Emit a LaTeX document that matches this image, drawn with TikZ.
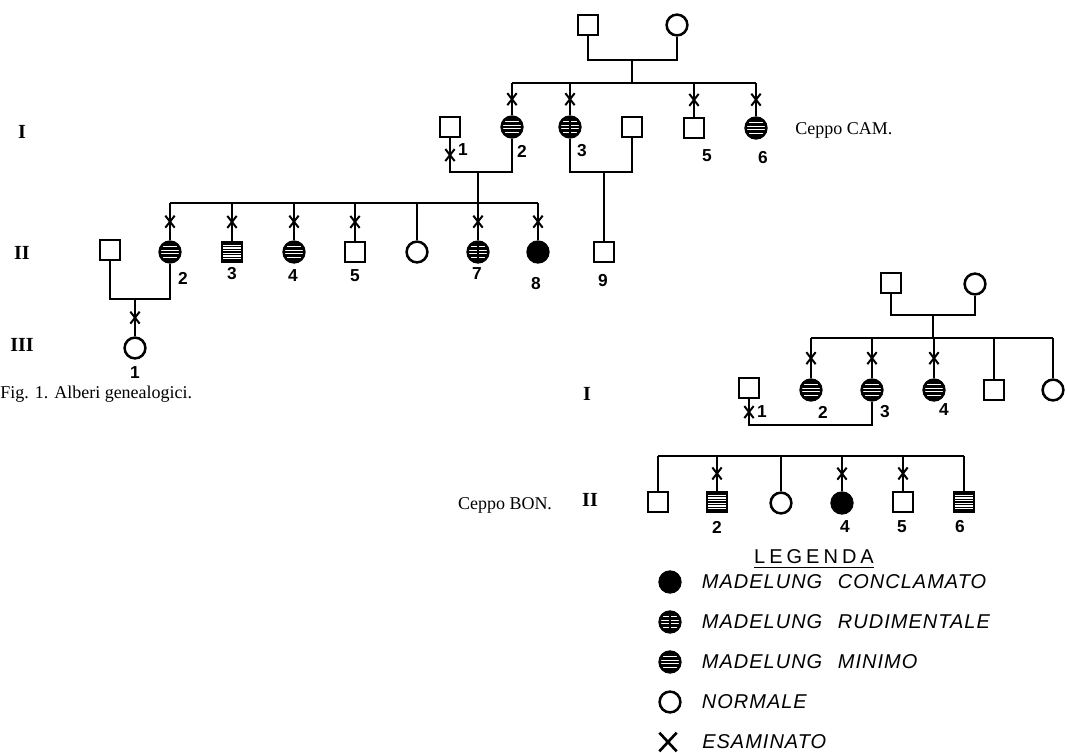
\documentclass[tikz,border=0pt]{standalone}
\usepackage{fontspec}
\setmainfont{Liberation Serif}
\setsansfont{Liberation Sans}
\newfontfamily\legfont[LetterSpace=5.0,WordSpace=2.4]{Liberation Sans}
\newfontfamily\titfont[LetterSpace=20.0]{Liberation Sans}
\usetikzlibrary{calc}
\usetikzlibrary{shapes.misc}
\usetikzlibrary{positioning}

% white stripes inside a hatched symbol
\newcommand{\strisce}[1]{%
  \foreach \k in {#1}
    \draw[white, line width=0.8pt] ([yshift=\k pt]path picture bounding box.west) -- ([yshift=\k pt]path picture bounding box.east);}

\tikzset{
  persona/.style={draw, line width=1.9pt, inner sep=0pt, fill=white},
  maschio/.style={persona, rectangle, minimum size=14.8pt},
  femmina/.style={persona, circle, minimum size=15.6pt},
  minimo/.style={femmina, fill=black, path picture={\strisce{-4.2,-1.4,1.4,4.2}}},
  rudimentale/.style={femmina, fill=black, path picture={\strisce{-4.2,-1.4,1.4,4.2}
      \draw[line width=1.5pt] (path picture bounding box.north) -- (path picture bounding box.south);}},
  quadrighe/.style={maschio, fill=black, path picture={\strisce{-5,-3,-1,1,3,5}}},
  conclamato/.style={femmina, fill=black},
  esam/.style={cross out, draw, line width=1.5pt, inner sep=0pt, minimum width=5.5pt, minimum height=7.5pt},
  linea/.style={line width=1.3pt},
  num/.style={font=\sffamily\bfseries\fontsize{13}{13}\selectfont, inner sep=0pt},
  gen/.style={font=\bfseries\fontsize{15}{15}\selectfont, inner sep=0pt},
  ceppo/.style={font=\fontsize{13.5}{13.5}\selectfont, inner sep=0pt},
  voce/.style={font=\legfont\itshape\fontsize{15}{15}\selectfont, inner sep=0pt},
}

\begin{document}
\begin{tikzpicture}[x=0.75pt, y=-0.75pt]
  \useasboundingbox (0,0) rectangle (1065,753);

  % Ceppo CAM, generazione I
  \node[maschio] (camP) at (588,25) {};
  \node[femmina] (camM) at (677,25) {};
  \coordinate (camPM) at (632,60);
  \coordinate (camsibL) at (512,83);
  \coordinate (camsibR) at (756,83);
  \draw[linea] (camP) |- (camM |- camPM) -- (camM);
  \draw[linea] (camPM) -- (camPM |- camsibL);
  \draw[linea] (camsibL) -- (camsibR);

  \node[maschio] (cam1) at (450,127) {};
  \node[minimo] (cam2) at (512,127) {};
  \node[rudimentale] (cam3) at (570,127) {};
  \node[maschio] (cam3m) at (632,127) {};
  \node[maschio] (cam5) at (694,128) {};
  \node[minimo] (cam6) at (756,128) {};
  \foreach \n in {cam2,cam3,cam5,cam6}
    \draw[linea] (\n |- camsibL) -- node[esam]{} (\n);

  \node[num] (cam1n) at (463,150) {1};
  \node[num] (cam2n) at (522,151) {2};
  \node[num] (cam3n) at (582,151) {3};
  \node[num] (cam5n) at (707,156) {5};
  \node[num] (cam6n) at (763,158) {6};

  \coordinate (camM12) at (478,172);
  \draw[linea] (cam1) -- node[esam]{} (cam1 |- camM12) -- (cam2 |- camM12) -- (cam2);
  \coordinate (camM3) at (604,172);
  \draw[linea] (cam3) |- (camM3) -| (cam3m);

  % Ceppo CAM, generazione II
  \coordinate (camIIsibL) at (170,203);
  \coordinate (camIIsibR) at (538,203);
  \draw[linea] (camM12) -- (camM12 |- camIIsibL);
  \draw[linea] (camIIsibL) -- (camIIsibR);

  \node[maschio] (camII1) at (110,250) {};
  \node[minimo] (camII2) at (170,252) {};
  \node[quadrighe] (camII3) at (232,252) {};
  \node[minimo] (camII4) at (294,252) {};
  \node[maschio] (camII5) at (355,252) {};
  \node[femmina] (camII6) at (417,252) {};
  \node[rudimentale] (camII7) at (478,252) {};
  \node[conclamato] (camII8) at (538,252) {};
  \node[maschio] (camII9) at (604,252) {};
  \foreach \n in {camII2,camII3,camII4,camII5,camII7,camII8}
    \draw[linea] (\n |- camIIsibL) -- node[esam]{} (\n);
  \draw[linea] (camII6 |- camIIsibL) -- (camII6);
  \draw[linea] (camM3) -- (camII9);

  \node[num] (camII2n) at (183,278) {2};
  \node[num] (camII3n) at (232,274) {3};
  \node[num] (camII4n) at (293,276) {4};
  \node[num] (camII5n) at (355,276) {5};
  \node[num] (camII7n) at (477,274) {7};
  \node[num] (camII8n) at (536,284) {8};
  \node[num] (camII9n) at (603,281) {9};

  % Ceppo CAM, generazione III
  \coordinate (camM21) at (135,299);
  \draw[linea] (camII1) |- (camM21) -| (camII2);
  \node[femmina] (camIII1) at (135,348) {};
  \draw[linea] (camM21) -- node[esam]{} (camIII1);
  \node[num] (camIII1n) at (135,373) {1};

  \node[gen] (camI) at (22,132) {I};
  \node[gen] (camII) at (22,253) {II};
  \node[gen] (camIII) at (22,345) {III};
  \node[ceppo, anchor=west] (cepcam) at (795,130) {Ceppo CAM.};
  \node[ceppo, anchor=west] (fig) at (0,394) {Fig. 1. Alberi genealogici.};

  % Ceppo BON, generazione I
  \node[maschio] (bonP) at (891,283) {};
  \node[femmina] (bonM) at (975,284) {};
  \coordinate (bonPM) at (933,315);
  \coordinate (bonsibL) at (811,338);
  \coordinate (bonsibR) at (1053,338);
  \draw[linea] (bonP) |- (bonM |- bonPM) -- (bonM);
  \draw[linea] (bonPM) -- (bonPM |- bonsibL);
  \draw[linea] (bonsibL) -- (bonsibR);

  \node[maschio] (bon1) at (749,388) {};
  \node[minimo] (bon2) at (811,390) {};
  \node[minimo] (bon3) at (872,390) {};
  \node[minimo] (bon4) at (934,390) {};
  \node[maschio] (bon5) at (994,390) {};
  \node[femmina] (bon6) at (1053,390) {};
  \foreach \n in {bon2,bon3,bon4}
    \draw[linea] (\n |- bonsibL) -- node[esam]{} (\n);
  \foreach \n in {bon5,bon6}
    \draw[linea] (\n |- bonsibL) -- (\n);

  \coordinate (bonM13) at (810,425);
  \draw[linea] (bon1) -- node[esam]{} (bon1 |- bonM13) -| (bon3);

  \node[num] (bon1n) at (762,412) {1};
  \node[num] (bon2n) at (823,412) {2};
  \node[num] (bon3n) at (885,412) {3};
  \node[num] (bon4n) at (944,410) {4};

  % Ceppo BON, generazione II
  \coordinate (bonIIsibL) at (658,456);
  \coordinate (bonIIsibR) at (964,456);
  \draw[linea] (bonIIsibL) -- (bonIIsibR);

  \node[maschio] (bonII1) at (658,502) {};
  \node[quadrighe] (bonII2) at (717,502) {};
  \node[femmina] (bonII3) at (781,503) {};
  \node[conclamato] (bonII4) at (842,503) {};
  \node[maschio] (bonII5) at (903,502) {};
  \node[quadrighe] (bonII6) at (964,502) {};
  \foreach \n in {bonII2,bonII4,bonII5}
    \draw[linea] (\n |- bonIIsibL) -- node[esam]{} (\n);
  \foreach \n in {bonII1,bonII3,bonII6}
    \draw[linea] (\n |- bonIIsibL) -- (\n);

  \node[num] (bonII2n) at (717,527) {2};
  \node[num] (bonII4n) at (845,527) {4};
  \node[num] (bonII5n) at (902,527) {5};
  \node[num] (bonII6n) at (960,527) {6};

  \node[gen] (bonI) at (587,394) {I};
  \node[gen] (bonII) at (590,500) {II};
  \node[ceppo] (cepbon) at (505,505) {Ceppo BON.};

  % Legenda
  \node[font=\titfont\fontsize{15}{15}\selectfont, inner sep=0pt] (legenda) at (814,557) {LEGENDA};
  \draw[line width=0.9pt] ([yshift=-2.5pt]legenda.base west) -- ([yshift=-2.5pt]legenda.base east);

  \node[conclamato] (lconc) at (670,582) {};
  \node[rudimentale] (lrud) at (670,622) {};
  \node[minimo] (lmin) at (670,662) {};
  \node[femmina] (lnorm) at (670,702) {};
  \node[cross out, draw, line width=2pt, inner sep=0pt, minimum width=11pt, minimum height=12pt] (lesam) at (668,742) {};
  \node[voce, right=15pt of lconc] (lconct) {MADELUNG CONCLAMATO};
  \node[voce, right=15pt of lrud] (lrudt) {MADELUNG RUDIMENTALE};
  \node[voce, right=15pt of lmin] (lmint) {MADELUNG MINIMO};
  \node[voce, right=15pt of lnorm] (lnormt) {NORMALE};
  \node[voce, right=19pt of lesam] (lesamt) {ESAMINATO};
\end{tikzpicture}
\end{document}
